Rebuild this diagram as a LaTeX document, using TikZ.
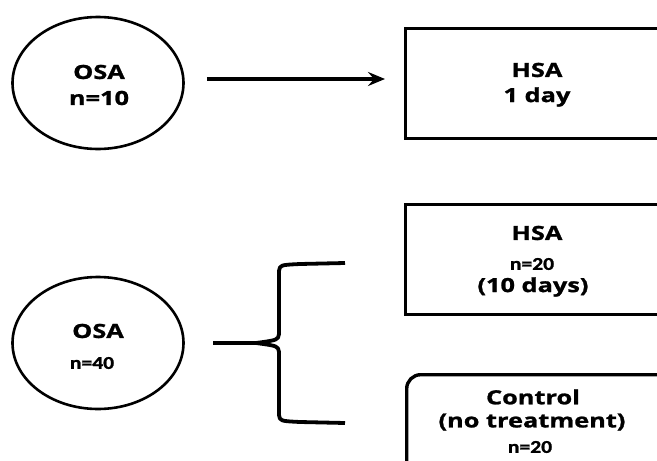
\documentclass[tikz,border=0pt]{standalone}
\usepackage{fontspec}
\setmainfont{Open Sans}[FakeStretch=1.3,BoldFeatures={FakeBold=1.2}]
\newfontfamily\narrowfont{Carlito}[FakeStretch=1.2,BoldFeatures={FakeBold=1.2}]
\usetikzlibrary{arrows.meta,shapes.geometric,calc}
\begin{document}
\begin{tikzpicture}[x=1pt,y=-1pt,
  grp/.style={ellipse,draw,line width=2.6pt,minimum width=171pt,minimum height=132pt,inner sep=0pt},
  arm/.style={draw,line width=3.4pt,minimum width=400pt,anchor=north west,inner sep=0pt},
  lbl/.style={font=\bfseries\fontsize{19.5}{22}\selectfont,inner sep=0pt},
  small/.style={font=\narrowfont\bfseries\fontsize{18}{20}\selectfont,inner sep=0pt},
  link/.style={line width=4.2pt,-{Stealth[length=17pt,width=14pt,inset=6pt]}},
  bracket/.style={line width=3.8pt,line join=round}]
\useasboundingbox (0,0) rectangle (657,461);
\clip (0,0) rectangle (657,461);

% single-session group
\node[grp] (osaA) at (98,83) {};
\node[lbl] (osaAt) at (99,72) {OSA};
\node[lbl] (osaAn) at (99,98) {n=10};
\node[arm,minimum height=110pt] (hsaA) at (404,27) {};
\node[lbl] (hsaAt) at (537,70) {HSA};
\node[lbl] (hsaAd) at (537,97) {1 day};
\draw[link] ($(osaA.east)+(22,-4)$) -- ($(hsaA.west |- osaA.east)+(-19,-4)$);

% randomised group
\node[grp] (osaB) at (98,343) {};
\node[lbl] (osaBt) at (98,331) {OSA};
\node[small] (osaBn) at (92,363) {n=40};

\node[arm,minimum height=110pt] (hsaB) at (404,203) {};
\node[lbl] (hsaBt) at (537,233) {HSA};
\node[small] (hsaBn) at (532,264) {n=20};
\node[lbl] (hsaBd) at (533,287) {(10 days)};

\node[arm,rounded corners=14pt,minimum height=120pt] (ctrl) at (405,373) {};
\node[lbl] (ctrlt) at (533,397) {Control};
\node[lbl] (ctrlu) at (532,422) {(no treatment)};
\node[small] (ctrln) at (530,447) {n=20};

% curly bracket splitting the group
\coordinate (stem) at (213,343);
\coordinate (tip) at (256,343);
\coordinate (topEnd) at (345,263);
\coordinate (botEnd) at (345,423);
\draw[bracket] (stem) -- (tip);
\draw[bracket] (topEnd) -- (300,264) .. controls (280,265) .. (279,271)
  -- (279,334) .. controls (278,340) .. (tip);
\draw[bracket] (botEnd) -- (300,422) .. controls (280,421) .. (279,415)
  -- (279,352) .. controls (278,346) .. (tip);
\end{tikzpicture}
\end{document}
